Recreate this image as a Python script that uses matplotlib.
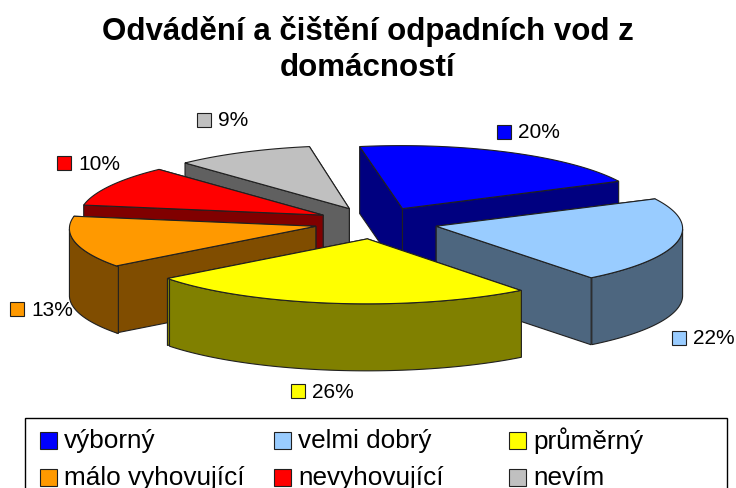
import math

import matplotlib
matplotlib.use("Agg")
import matplotlib.pyplot as plt
from matplotlib.patches import Polygon, Rectangle

plt.rcParams['font.family'] = ['Liberation Sans', 'DejaVu Sans']

categories = ["výborný", "velmi dobrý", "průměrný", "málo vyhovující", "nevyhovující", "nevím"]
values = [20, 22, 26, 13, 10, 9]
colors = ["#0000FF", "#99CCFF", "#FFFF00", "#FF9900", "#FF0000", "#C0C0C0"]
side_colors = ["#000080", "#4D667F", "#808000", "#804D00", "#800000", "#606060"]

title = "Odvádění a čištění odpadních vod z\ndomácností"

# pie geometry, in pixels of the picture
center_x = 376
center_y = 224
radius_x = 245
radius_y = 64
perspective = 0.06
explode = 0.25
depth = 67
start_angle = 100
# the 3d view of the original squeezes the angles a bit
warp = 5
arc_lift = 2.5
arc_sag = 3.5

label_pos = [(497, 133), (672, 339), (291, 392), (10, 310), (57, 164), (197, 121)]
legend_x = [40, 274, 509]
legend_y = [441, 478]


def project(angle, radius, mid):
    seen = angle - warp * math.cos(math.radians(angle - 5))
    sin_seen = math.sin(math.radians(seen))
    px = explode * math.cos(math.radians(mid)) + radius * math.cos(math.radians(seen))
    py = explode * math.sin(math.radians(mid)) + radius * sin_seen
    scale = 1 / (1 + perspective * py)
    shift = (arc_sag * sin_seen ** 2 - arc_lift) * radius
    return center_x + radius_x * px * scale, center_y - radius_y * py + shift


def drop(points):
    return [(x, y + depth) for x, y in points]


def front_angles(a1, a2):
    # part of the arc that faces the viewer, a1 > a2
    found = []
    for i in range(int(a2), int(a1) + 1):
        if math.sin(math.radians(i)) <= 0:
            found.append(i)
    return found


def draw_slice(ax, a1, a2, color, side):
    mid = (a1 + a2) / 2
    apex = project(a1, 0, mid)
    arc_angles = [a1 + (a2 - a1) * i / 60 for i in range(61)]
    arc = [project(a, 1, mid) for a in arc_angles]

    cut_1 = [apex, arc[0]]
    cut_2 = [apex, arc[-1]]
    cuts = sorted([cut_1, cut_2], key=lambda c: c[1][1])
    for cut in cuts:
        ax.add_patch(Polygon(cut + drop(cut)[::-1], fc=side, ec="#202020", lw=0.8))

    front = front_angles(a1, a2)
    if len(front) > 1:
        wall = [project(a, 1, mid) for a in front]
        ax.add_patch(Polygon(wall + drop(wall)[::-1], fc=side, ec="#202020", lw=0.8))

    ax.add_patch(Polygon([apex] + arc, fc=color, ec="#202020", lw=0.8))


def mean_y(slice_item):
    a1, a2 = slice_item[0], slice_item[1]
    mid = (a1 + a2) / 2
    return project(mid, 0.6, mid)[1]


def graph():
    fig = plt.figure(figsize=(7.36, 4.89), dpi=100)
    ax = fig.add_axes([0, 0, 1, 1])
    ax.set_xlim(0, 736)
    ax.set_ylim(489, 0)
    ax.axis("off")

    ax.text(368, 49.5, title, ha="center", va="center", fontsize=22.5, fontweight="bold", linespacing=1.28)

    slices = []
    angle = start_angle
    total = sum(values)
    for i in range(len(values)):
        sweep = 360 * values[i] / total
        slices.append((angle, angle - sweep, colors[i], side_colors[i]))
        angle -= sweep

    for item in sorted(slices, key=mean_y):
        draw_slice(ax, item[0], item[1], item[2], item[3])

    for i in range(len(values)):
        x, y = label_pos[i]
        ax.add_patch(Rectangle((x, y - 7), 14, 14, fc=colors[i], ec="#202020", lw=0.8))
        ax.text(x + 21, y, "{}%".format(values[i]), va="center", fontsize=15)

    ax.add_patch(Rectangle((25, 419), 702, 100, fc="white", ec="black", lw=1))
    for i in range(len(categories)):
        x = legend_x[i % 3]
        y = legend_y[i // 3]
        ax.add_patch(Rectangle((x, y - 8), 17, 17, fc=colors[i], ec="#202020", lw=0.8))
        ax.text(x + 24, y, categories[i], va="center", fontsize=18.8)

    fig.savefig("out.png", dpi=100)


graph()
